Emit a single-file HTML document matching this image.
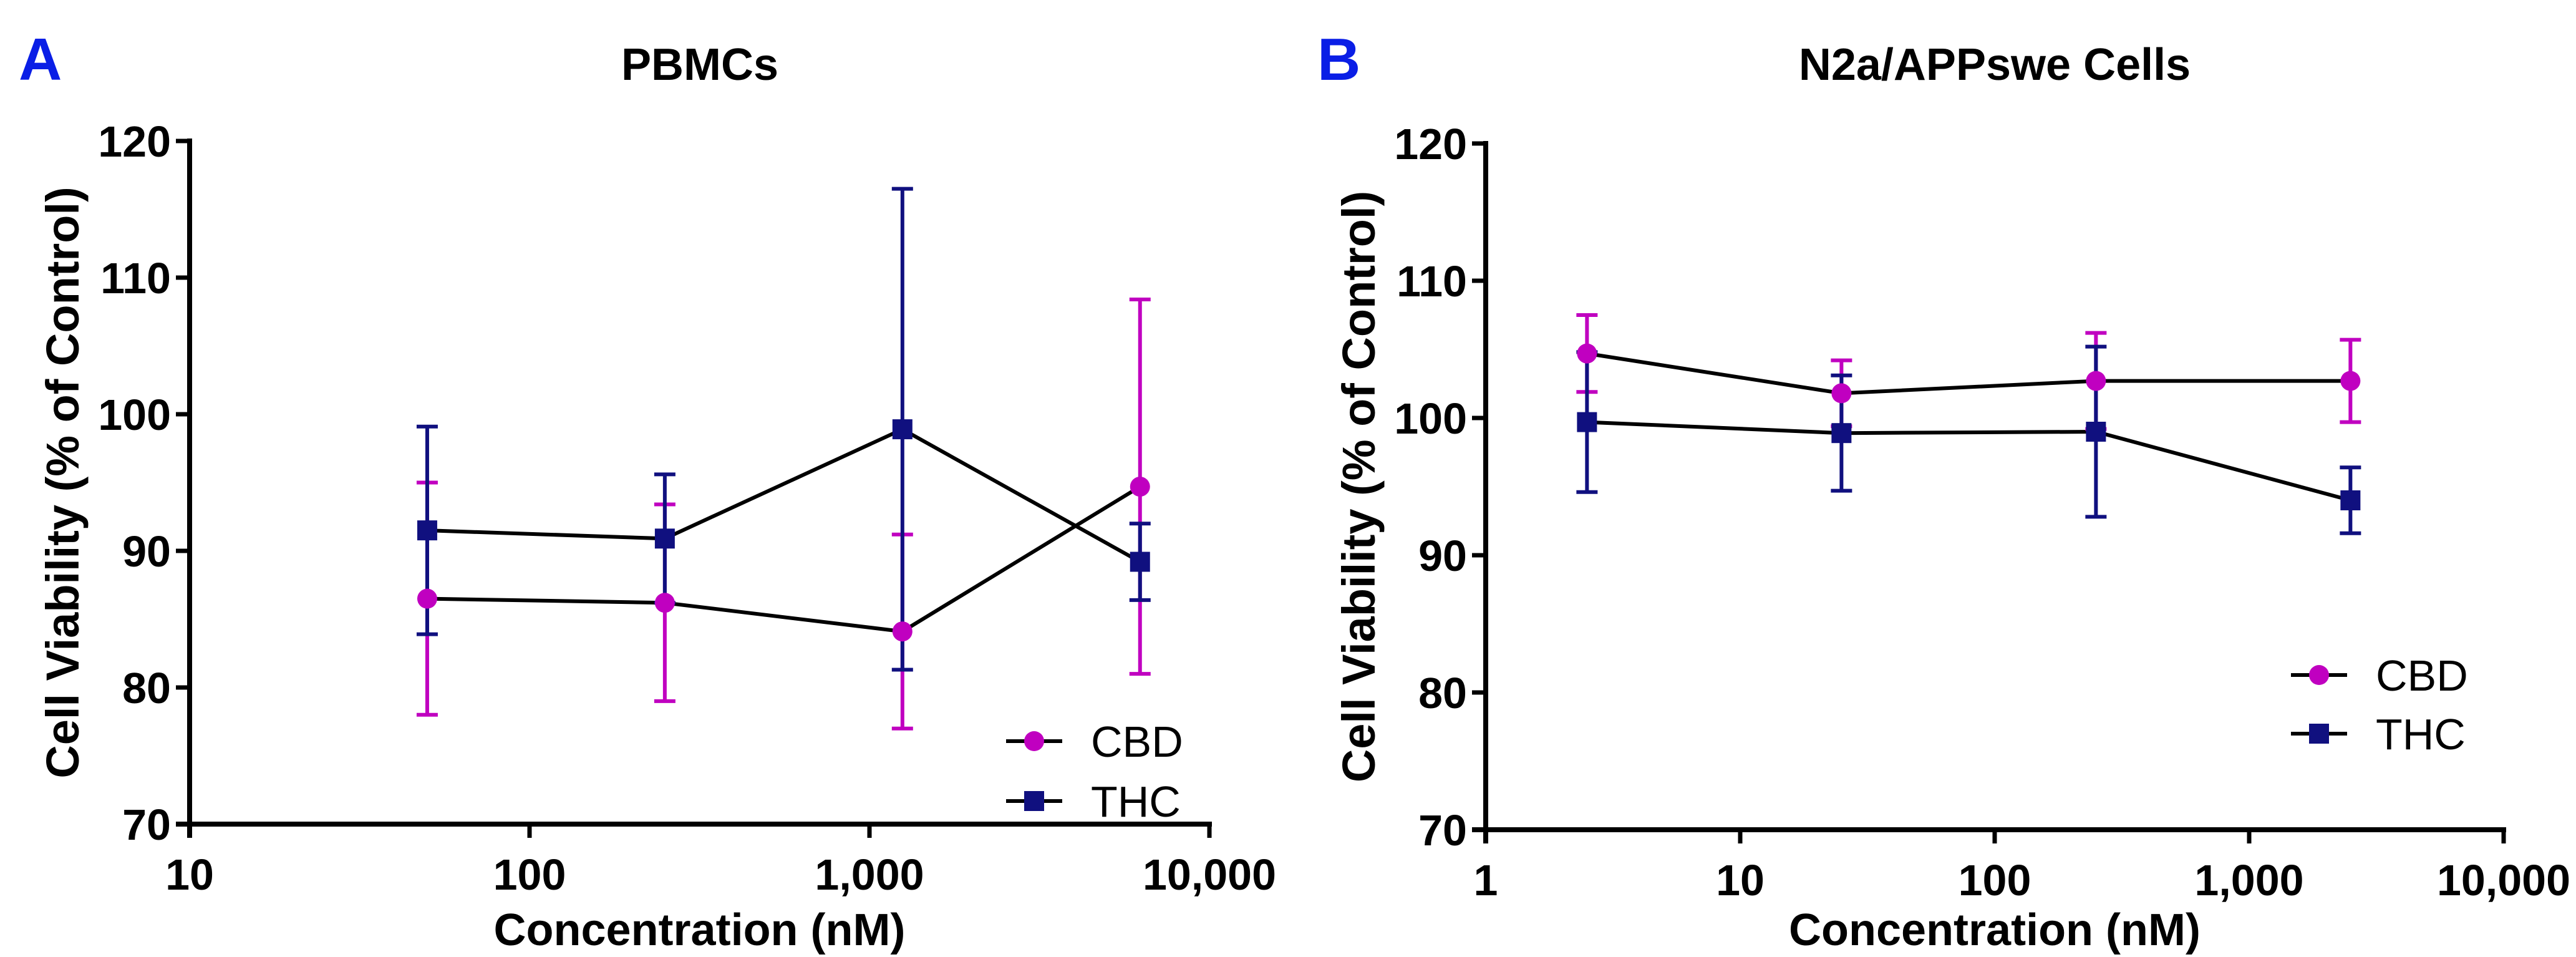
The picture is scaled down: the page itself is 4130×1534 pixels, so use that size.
<!DOCTYPE html>
<html><head><meta charset="utf-8"><style>
html,body{margin:0;padding:0;background:#fff;}
svg{display:block;}
text{font-family:"Liberation Sans Narrow","Liberation Sans",sans-serif;font-weight:bold;fill:#000;}
.tl{font-size:70px;}
.ax{font-size:72px;}
.yt{font-family:"Liberation Sans",sans-serif;font-size:74px;font-weight:bold;}
.lg{font-family:"Liberation Sans Narrow","Liberation Sans",sans-serif;font-weight:normal;font-size:70px;}
.pl{font-family:"Liberation Sans",sans-serif;font-size:96px;font-weight:bold;fill:#0a1ee6;}
</style></head><body>
<svg id="fig" width="4130" height="1534" viewBox="0 0 4130 1534"></svg>
<script>
const aConc = [50, 250, 1250, 6250];
const aCBD = [86.5, 86.2, 84.1, 94.7];
const aCBDerr = [8.5, 7.2, 7.1, 13.7];
const aTHC = [91.5, 90.9, 98.9, 89.2];
const aTHCerr = [7.6, 4.7, 17.6, 2.8];
const aXTicks = ["10", "100", "1,000", "10,000"];

const bConc = [2.5, 25, 250, 2500];
const bCBD = [104.7, 101.8, 102.7, 102.7];
const bCBDerr = [2.8, 2.4, 3.5, 3.0];
const bTHC = [99.7, 98.9, 99.0, 94.0];
const bTHCerr = [5.1, 4.2, 6.2, 2.4];
const bXTicks = ["1", "10", "100", "1,000", "10,000"];

const yTicks = [70, 80, 90, 100, 110, 120];

const NS = "http://www.w3.org/2000/svg";
const svg = document.getElementById('fig');
function el(tag, attrs, parent, txt){
  const e = document.createElementNS(NS, tag);
  for (const k in attrs) e.setAttribute(k, attrs[k]);
  if (txt !== undefined) e.textContent = txt;
  (parent || svg).appendChild(e);
  return e;
}
const MAG = "#c000c0", NAVY = "#10107f";

function panel(p){
  const g = el('g', {});
  
  
  const x = v => p.x0 + (Math.log10(v) - p.logMin) * p.dec;
  const y = v => p.yBot - (v - 70) * (p.yBot - p.yTop) / 50;
  // panel letter & title
  const L = el('text', {x: p.letterX, y: 128, class: 'pl'}, g, p.letter);
  
  
  const T = el('text', {x: p.titleX, y: 128, class: 'ax', 'text-anchor': 'middle'}, g, p.title);
  
  
  // axes
  const xEnd = p.x0 + p.nDec * p.dec;
  const ya = el('line', {x1: p.x0, y1: p.yTop - 4, x2: p.x0, y2: p.yBot + 22, stroke: '#000', 'stroke-width': 8}, g);
  
  
  const xa = el('line', {x1: p.x0 - 22, y1: p.yBot, x2: xEnd + 4, y2: p.yBot, stroke: '#000', 'stroke-width': 8}, g);
  
  
  yTicks.forEach(t => {
    el('line', {x1: p.x0 - 22, y1: y(t), x2: p.x0, y2: y(t), stroke: '#000', 'stroke-width': 7}, g);
    const tt = el('text', {x: p.x0 - 30, y: y(t) + 25, class: 'tl', 'text-anchor': 'end'}, g, String(t));
    
    
  });
  p.xTicks.forEach((lab, i) => {
    const xx = p.x0 + i * p.dec;
    el('line', {x1: xx, y1: p.yBot, x2: xx, y2: p.yBot + 22, stroke: '#000', 'stroke-width': 7}, g);
    const tt = el('text', {x: xx, y: p.yBot + 105, class: 'tl', 'text-anchor': 'middle'}, g, lab);
    
    
  });
  const xt = el('text', {x: (p.x0 + xEnd) / 2, y: 1515, class: 'ax', 'text-anchor': 'middle'}, g, 'Concentration (nM)');
  
  
  const yt = el('text', {x: 0, y: 0, class: 'yt', 'text-anchor': 'middle', transform: `translate(${p.x0 - 178},${(p.yTop + p.yBot) / 2}) rotate(-90)`}, g, 'Cell Viability (% of Control)');
  
  

  const series = [
    {name: 'cbd', vals: p.cbd, err: p.cbdErr, col: MAG, shape: 'circle'},
    {name: 'thc', vals: p.thc, err: p.thcErr, col: NAVY, shape: 'square'}
  ];
  // lines first
  series.forEach(s => {
    const pts = p.conc.map((c, i) => x(c) + ',' + y(s.vals[i])).join(' ');
    const pl = el('polyline', {points: pts, fill: 'none', stroke: '#000', 'stroke-width': 6}, g);
    
    
  });
  series.forEach(s => {
    p.conc.forEach((c, i) => {
      const cx = x(c), lo = y(s.vals[i] - s.err[i]), hi = y(s.vals[i] + s.err[i]);
      const eb = el('path', {d: `M${cx},${lo}V${hi}M${cx - 17},${lo}H${cx + 17}M${cx - 17},${hi}H${cx + 17}`, stroke: s.col, 'stroke-width': 6, fill: 'none'}, g);
      
      
    });
  });
  series.forEach(s => {
    p.conc.forEach((c, i) => {
      const cx = x(c), cy = y(s.vals[i]);
      let m;
      if (s.shape === 'circle') m = el('circle', {cx: cx, cy: cy, r: 16, fill: s.col}, g);
      else m = el('rect', {x: cx - 16, y: cy - 16, width: 32, height: 32, fill: s.col}, g);
      
      
    });
  });
  // legend
  series.forEach((s, k) => {
    const ly = p.legY[k];
    const lg = el('g', {}, g);
    
    
    el('line', {x1: p.legX, y1: ly, x2: p.legX + 90, y2: ly, stroke: '#000', 'stroke-width': 6}, lg);
    if (s.shape === 'circle') el('circle', {cx: p.legX + 45, cy: ly, r: 16, fill: s.col}, lg);
    else el('rect', {x: p.legX + 29, y: ly - 16, width: 32, height: 32, fill: s.col}, lg);
    el('text', {x: p.legX + 136, y: ly + 25, class: 'lg'}, lg, s.name.toUpperCase());
  });
}

panel({id: 'pbmcs', letter: 'A', letterX: 30, title: 'PBMCs', titleX: 1122,
  x0: 304, dec: 545, logMin: 1, nDec: 3, yTop: 226, yBot: 1321, xTicks: aXTicks,
  conc: aConc, cbd: aCBD, cbdErr: aCBDerr, thc: aTHC, thcErr: aTHCerr,
  legX: 1613, legY: [1188, 1284]});
panel({id: 'n2a', letter: 'B', letterX: 2112, title: 'N2a/APPswe Cells', titleX: 3198,
  x0: 2382, dec: 408, logMin: 0, nDec: 4, yTop: 230, yBot: 1330, xTicks: bXTicks,
  conc: bConc, cbd: bCBD, cbdErr: bCBDerr, thc: bTHC, thcErr: bTHCerr,
  legX: 3673, legY: [1082, 1176]});
</script>
</body></html>
